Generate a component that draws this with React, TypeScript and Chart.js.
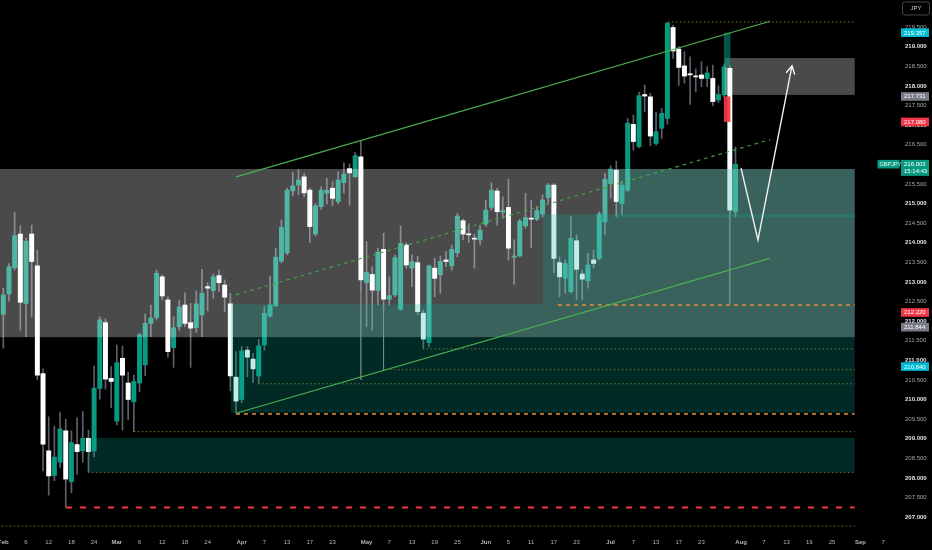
import React, { useEffect, useRef } from 'react';
import { Chart, registerables } from 'chart.js';
Chart.register(...registerables);

// ---- Daily GBPJPY candles (index 0 = first visible bar, early Feb) ----
const openP = [212.17,212.69,213.36,214.22,212.45,214.22,213.41,210.66,208.69,208.06,208.40,209.20,207.90,208.85,208.69,209.01,208.69,210.28,211.96,210.54,209.45,211.05,210.42,209.94,210.42,210.88,211.94,212.09,213.13,212.54,211.32,211.86,212.41,211.96,211.83,212.16,212.88,212.78,213.16,212.92,212.44,210.57,210.00,211.26,211.03,210.60,211.39,212.13,212.39,213.53,213.74,215.32,215.47,215.68,215.34,214.22,214.92,215.26,215.39,215.05,215.53,215.89,215.68,216.19,212.98,213.19,212.78,213.83,212.56,212.67,212.30,213.94,213.35,213.49,212.20,211.45,213.35,213.18,213.56,213.41,213.74,214.56,214.22,214.10,214.07,214.47,214.90,215.32,214.78,214.90,213.63,213.66,214.43,214.62,214.60,214.73,215.15,215.47,213.49,213.09,212.75,214.05,213.20,213.03,213.56,213.60,214.53,215.51,215.85,215.00,215.34,217.02,216.45,217.78,217.72,216.53,216.92,217.17,219.49,218.94,218.51,218.31,218.25,218.28,218.19,218.19,217.64,217.77,218.45,214.79];
const highP = [212.84,213.47,214.78,214.43,214.12,214.45,213.81,210.78,209.56,209.32,209.68,209.50,209.20,209.53,209.69,209.22,210.85,212.11,212.06,210.84,211.39,211.36,210.69,210.62,211.69,212.18,212.41,213.30,213.18,212.62,212.11,212.54,212.72,212.45,212.77,213.32,212.98,213.20,213.30,213.05,212.71,211.22,211.35,211.35,211.18,211.54,212.37,213.15,213.86,214.58,215.39,215.79,215.87,215.77,215.39,215.00,215.43,215.64,215.56,215.81,216.04,216.01,216.30,216.59,214.03,213.39,213.86,214.24,213.13,213.69,214.43,214.00,213.69,213.66,212.28,213.43,213.60,213.66,213.77,213.94,214.75,214.60,214.48,214.22,214.45,215.09,215.53,215.39,215.17,215.62,214.07,214.60,215.26,215.09,214.92,215.22,215.51,215.51,213.64,213.56,214.68,214.20,213.30,213.73,213.81,214.79,215.77,215.96,216.08,215.57,217.17,217.26,217.84,218.02,217.81,217.33,217.43,219.62,219.55,219.00,218.87,218.74,218.43,218.62,218.49,218.53,218.00,218.56,218.51,216.44];
const lowP = [211.31,212.50,213.30,211.77,211.60,212.11,210.50,208.18,207.56,207.93,208.27,207.25,207.62,208.09,208.40,208.16,208.54,210.01,210.26,209.79,209.35,209.22,209.48,209.18,210.20,210.61,211.60,212.03,212.54,211.08,210.82,211.77,211.86,210.82,211.71,211.60,212.26,212.58,212.75,212.24,210.22,209.66,209.92,210.58,210.43,210.41,211.26,212.10,212.37,213.49,213.69,215.19,215.22,215.17,214.00,214.17,214.85,214.99,214.94,214.99,215.27,214.96,215.67,212.79,211.86,211.77,212.41,212.28,212.41,212.62,212.28,213.35,212.88,212.16,211.31,211.35,212.62,212.71,213.39,213.30,213.64,214.07,214.00,213.35,213.94,214.41,214.83,214.45,214.62,213.56,212.94,213.64,214.37,213.88,214.56,214.65,215.00,213.23,212.62,212.71,212.71,212.54,212.54,212.84,213.35,213.56,214.20,215.14,214.66,214.71,215.30,216.36,216.42,217.34,216.47,216.49,216.66,217.02,218.70,218.01,218.07,217.53,217.85,217.98,217.98,217.49,217.58,217.72,214.71,214.66];
const closeP = [212.67,213.39,214.18,212.48,214.04,213.52,210.62,208.86,208.05,208.53,209.25,207.97,208.90,208.67,209.01,208.67,210.29,212.03,210.52,210.46,210.94,210.62,210.00,210.46,211.65,211.94,212.08,213.22,212.64,211.22,211.83,212.36,211.94,211.82,212.44,212.71,212.84,213.13,212.98,212.61,210.60,209.96,211.24,211.08,210.78,211.37,212.20,212.41,213.63,214.39,215.34,215.45,215.60,215.27,214.41,214.94,215.34,215.34,215.13,215.60,215.75,215.78,216.22,213.05,213.24,212.79,213.76,212.56,212.65,213.62,213.98,213.43,213.52,212.24,211.54,213.41,213.09,213.52,213.52,213.83,214.68,214.22,214.20,214.09,214.32,214.83,215.34,214.79,214.82,213.86,213.66,214.55,214.64,214.60,214.82,215.09,215.47,213.60,213.13,213.47,214.11,213.32,213.07,213.43,213.47,214.73,215.62,215.88,215.05,215.47,217.05,216.58,217.75,217.74,216.72,216.83,217.30,219.60,218.89,218.47,218.25,218.28,218.23,218.19,218.33,217.60,217.78,218.49,214.83,216.003];

// ---- axis ticks ----
const xTickIdx = [0,4,8,12,16,20,24,28,32,36,42,46,50,54,58,64,68,72,76,80,85,89,93,97,101,107,111,115,119,123,130,134,138,142,146,151,155];
const xTickText = ['Feb','6','12','18','24','Mar','6','12','18','24','Apr','7','13','17','23','May','7','13','19','25','Jun','5','11','17','23','Jul','7','13','17','23','Aug','7','13','19','25','Sep','7'];
const xMonthLabels = ['Feb','Mar','Apr','May','Jun','Jul','Aug','Sep'];
const yTickVals = [207,207.5,208,208.5,209,209.5,210,210.5,211,211.5,212,212.5,213,213.5,214,214.5,215,215.5,216,216.5,217,217.5,218,218.5,219,219.5];

// ---- drawings (data coordinates: bar index, price) ----
const channelUpper = [{ x: 41.0, y: 215.68 }, { x: 135.1, y: 219.65 }];
const channelMid = [{ x: 41.0, y: 212.67 }, { x: 135.1, y: 216.63 }];
const channelLower = [{ x: 41.0, y: 209.65 }, { x: 135.0, y: 213.60 }];
const arrowPath = [{ x: 129.97, y: 215.90 }, { x: 132.96, y: 214.07 }, { x: 138.95, y: 218.51 }];

const levelEnd = 150;
const dottedPrices = [219.63, 211.29, 210.76, 210.40, 209.18, 208.14, 206.77];
const dottedStarts = [117.1, 73.9, 68.1, 44.9, 23.0, 14.9, -1];
const orangePrices = [209.63, 212.41];
const orangeStarts = [41.0, 97.7];
const redPrice = 207.245;
const redStart = 11.05;
const faintX = [63, 67, 128];
const faintTop = [212.79, 212.28, 214.71];
const faintBottom = [210.50, 210.75, 212.43];

// boxes: [x0, x1, priceTop, priceBottom]
const grayZone = [-1, 150, 215.88, 211.59];
const tealZones = [
  [40.1, 150, 212.43, 209.66],
  [95.08, 150, 214.73, 212.43],
  [108.1, 150, 215.88, 214.64],
  [14.92, 150, 209.02, 208.14],
];
const topRightZone = [127.1, 150, 218.71, 217.77];
const darkTealBlock = [126.95, 128.1, 219.357, 218.49];
const redBlock = [126.95, 128.1, 217.731, 217.08];

// price tags on the right axis
const tagPrices = [219.357, 217.731, 217.08, 216.003, 212.22, 211.844, 210.84];
const tagTexts = ['219.357', '217.731', '217.080', '216.003', '212.220', '211.844', '210.840'];
const tagColors = ['#00bcd4', '#787b86', '#f23645', '#089981', '#f23645', '#787b86', '#00bcd4'];
const tagSubs = ['', '', '', '15:14:43', '', '', ''];
const symbolName = 'GBPJPY';
const currencyName = 'JPY';

const FONT = '"Liberation Sans", Arial, sans-serif';
const UP = '#089981';
const DOWN = '#ffffff';

const overlayPlugin = {
  id: 'overlays',
  beforeDraw(chart: any) {
    const { ctx, width, height } = chart;
    ctx.save();
    ctx.fillStyle = '#000';
    ctx.fillRect(0, 0, width, height);
    ctx.restore();
  },
  afterDatasetDraw(chart: any, args: any) {
    if (args.index !== 1) return;
    const { ctx, chartArea, scales } = chart;
    const xs = scales.x, ys = scales.y;
    ctx.save();
    ctx.beginPath();
    ctx.rect(chartArea.left, chartArea.top, chartArea.right - chartArea.left, chartArea.bottom - chartArea.top);
    ctx.clip();
    const rect = (b: number[], color: string) => {
      const x0 = xs.getPixelForValue(b[0]);
      const x1 = xs.getPixelForValue(b[1]);
      const y0 = ys.getPixelForValue(b[2]);
      const y1 = ys.getPixelForValue(b[3]);
      ctx.fillStyle = color;
      ctx.fillRect(x0, y0, x1 - x0, y1 - y0);
    };
    rect(grayZone, 'rgba(255,255,255,0.29)');
    tealZones.forEach((b) => rect(b, 'rgba(8,175,154,0.24)'));
    rect(topRightZone, 'rgba(255,255,255,0.29)');
    rect(darkTealBlock, 'rgba(8,153,129,0.55)');
    rect(redBlock, 'rgba(242,54,69,0.92)');
    ctx.restore();
  },
  afterDraw(chart: any) {
    const { ctx, chartArea, scales } = chart;
    const xs = scales.x, ys = scales.y;
    ctx.save();
    // arrow head
    const n = arrowPath.length;
    const ax = xs.getPixelForValue(arrowPath[n - 1].x);
    const ay = ys.getPixelForValue(arrowPath[n - 1].y);
    const bx = xs.getPixelForValue(arrowPath[n - 2].x);
    const by = ys.getPixelForValue(arrowPath[n - 2].y);
    const ang = Math.atan2(ay - by, ax - bx);
    const L = 9;
    ctx.strokeStyle = '#ffffff';
    ctx.lineWidth = 1.4;
    ctx.beginPath();
    ctx.moveTo(ax - L * Math.cos(ang - 0.5), ay - L * Math.sin(ang - 0.5));
    ctx.lineTo(ax, ay);
    ctx.lineTo(ax - L * Math.cos(ang + 0.5), ay - L * Math.sin(ang + 0.5));
    ctx.stroke();

    // price tags
    const tagX = chartArea.right + 1;
    const tagW = 28;
    const tagH = 8.6;
    ctx.textAlign = 'left';
    ctx.textBaseline = 'middle';
    tagPrices.forEach((p, i) => {
      const yc = ys.getPixelForValue(p);
      const hasSub = tagSubs[i] !== '';
      const top = yc - tagH / 2;
      const h = hasSub ? 16 : tagH;
      ctx.fillStyle = tagColors[i];
      ctx.fillRect(tagX, top, tagW, h);
      ctx.fillStyle = '#ffffff';
      ctx.font = '6px ' + FONT;
      ctx.fillText(tagTexts[i], tagX + 3, yc + 0.3);
      if (hasSub) ctx.fillText(tagSubs[i], tagX + 3, yc + 7.6);
      if (hasSub) {
        ctx.fillStyle = tagColors[i];
        ctx.fillRect(chartArea.right - 22.5, top, 22, tagH);
        ctx.fillStyle = '#e8f5f2';
        ctx.font = '5.6px ' + FONT;
        ctx.fillText(symbolName, chartArea.right - 20.5, yc + 0.3);
      }
    });

    // currency box
    ctx.fillStyle = '#000';
    ctx.strokeStyle = '#434651';
    ctx.lineWidth = 1;
    ctx.beginPath();
    (ctx as any).roundRect(chartArea.right + 2.5, 2, 27, 13, 2);
    ctx.fill();
    ctx.stroke();
    ctx.fillStyle = '#d1d4dc';
    ctx.font = '6px ' + FONT;
    ctx.textAlign = 'center';
    ctx.fillText(currencyName, chartArea.right + 16, 8.8);
    ctx.restore();
  },
};

export default function App() {
  const ref = useRef<HTMLCanvasElement | null>(null);
  useEffect(() => {
    document.body.style.margin = '0';
    document.body.style.background = '#000';
    const canvas = ref.current;
    if (!canvas) return;

    const bodyColors = openP.map((o, i) => (closeP[i] >= o ? UP : DOWN));
    const levelLine = (price: number, start: number) => [{ x: start, y: price }, { x: levelEnd, y: price }];
    const lineDs = (data: any[], color: string, width: number, dash: number[], order: number) => ({
      type: 'line' as const,
      data,
      borderColor: color,
      borderWidth: width,
      borderDash: dash,
      pointRadius: 0,
      fill: false,
      tension: 0,
      order,
    });

    const datasets: any[] = [
      {
        type: 'bar',
        label: 'wicks',
        data: highP.map((h, i) => ({ x: i, y: [lowP[i], h] })),
        backgroundColor: '#5d606b',
        barThickness: 1,
        grouped: false,
        order: 10,
      },
      {
        type: 'bar',
        label: 'bodies',
        data: openP.map((o, i) => ({ x: i, y: [o, closeP[i]] })),
        backgroundColor: bodyColors,
        barThickness: 4.3,
        minBarLength: 1,
        grouped: false,
        order: 9,
      },
    ];
    faintX.forEach((fx, i) => {
      datasets.push(lineDs([{ x: fx, y: faintTop[i] }, { x: fx, y: faintBottom[i] }], 'rgba(150,160,160,0.45)', 1, [], 5));
    });
    dottedPrices.forEach((p, i) => {
      datasets.push(lineDs(levelLine(p, dottedStarts[i]), 'rgba(150,140,60,0.8)', 1, [1.5, 2.5], 4));
    });
    orangePrices.forEach((p, i) => {
      datasets.push(lineDs(levelLine(p, orangeStarts[i]), '#e8913f', 1.5, [4, 4], 3));
    });
    datasets.push(lineDs(levelLine(redPrice, redStart), '#f23645', 2, [6, 8], 3));
    datasets.push(lineDs(channelUpper, '#4caf50', 1.2, [], 2));
    datasets.push(lineDs(channelLower, '#4caf50', 1.2, [], 2));
    datasets.push(lineDs(channelMid, '#43a047', 1.2, [3.5, 4], 2));
    datasets.push(lineDs(arrowPath, '#f0f0f0', 1.4, [], 1));

    const chart = new Chart(canvas, {
      type: 'bar',
      data: { datasets },
      options: {
        responsive: false,
        animation: false,
        layout: { padding: 0, autoPadding: false },
        plugins: { legend: { display: false }, tooltip: { enabled: false } },
        scales: {
          x: {
            type: 'linear',
            min: -0.581,
            max: 157.98,
            offset: false,
            grid: { display: false, offset: false, drawTicks: false },
            border: { display: false },
            afterFit: (s: any) => {
              s.height = 15;
              s.paddingLeft = 0;
              s.paddingRight = 0;
            },
            afterBuildTicks: (s: any) => { s.ticks = xTickIdx.map((v) => ({ value: v })); },
            ticks: {
              autoSkip: false,
              maxRotation: 0,
              minRotation: 0,
              padding: 4,
              color: '#b2b5be',
              font: (c: any) => ({
                size: 6,
                family: FONT,
                weight: xMonthLabels.includes(xTickText[c.index]) ? 'bold' : 'normal',
              }),
              callback: (_v: any, i: number) => xTickText[i],
            },
          },
          y: {
            type: 'linear',
            position: 'right',
            min: 206.543,
            max: 220.191,
            grid: { display: false, drawTicks: false },
            border: { display: false },
            afterFit: (s: any) => {
              s.width = 32;
              s.paddingTop = 0;
              s.paddingBottom = 0;
            },
            afterBuildTicks: (s: any) => { s.ticks = yTickVals.map((v) => ({ value: v })); },
            ticks: {
              padding: 5,
              color: (c: any) => (Number.isInteger(c.tick.value) ? '#e0e3eb' : '#a3a6af'),
              font: (c: any) => ({
                size: 6,
                family: FONT,
                weight: c.tick && Number.isInteger(c.tick.value) ? 'bold' : 'normal',
              }),
              callback: (v: any) => Number(v).toFixed(3),
            },
          },
        },
      },
      plugins: [overlayPlugin],
    } as any);
    return () => chart.destroy();
  }, []);

  return (
    <div style={{ width: 932, height: 550, background: '#000', position: 'relative' }}>
      <canvas ref={ref} width={932} height={550} style={{ display: 'block', width: 932, height: 550 }} />
    </div>
  );
}
